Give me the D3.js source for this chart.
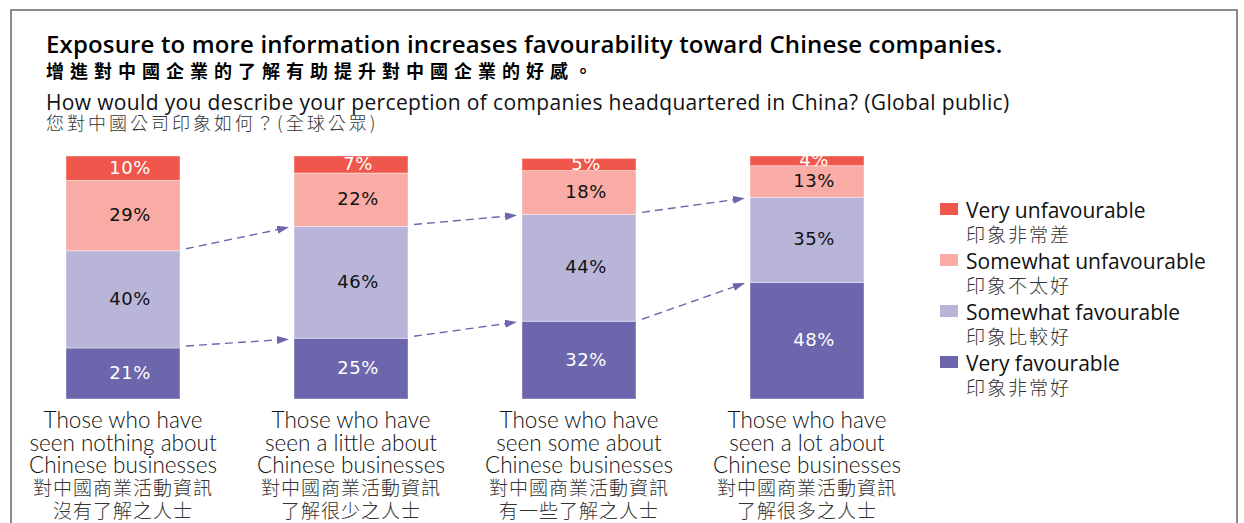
<!DOCTYPE html>
<html>
<head>
<meta charset="utf-8">
<script src="https://cdn.jsdelivr.net/npm/d3@7/dist/d3.min.js"></script>
<style>
  body { margin: 0; background: #fff; }
  svg { display: block; }
</style>
</head>
<body>
<div id="chart"></div>
<script>
// categories (English lines / Chinese lines)
const catEn = [
  ["Those who have", "seen nothing about", "Chinese businesses"],
  ["Those who have", "seen a little about", "Chinese businesses"],
  ["Those who have", "seen some about", "Chinese businesses"],
  ["Those who have", "seen a lot about", "Chinese businesses"]
]
const catZh = [
  ["對中國商業活動資訊", "沒有了解之人士"],
  ["對中國商業活動資訊", "了解很少之人士"],
  ["對中國商業活動資訊", "有一些了解之人士"],
  ["對中國商業活動資訊", "了解很多之人士"]
]

// series values, % (bottom to top)
const veryFav = [21, 25, 32, 48]
const somewhatFav = [40, 46, 44, 35]
const somewhatUnfav = [29, 22, 18, 13]
const veryUnfav = [10, 7, 5, 4]

const seriesKeys = ["veryFav", "somewhatFav", "somewhatUnfav", "veryUnfav"]
const seriesColors = ["#6c66ac", "#b9b5d9", "#f8aca5", "#f0574c"]
const labelColors = ["#fff", "#111", "#111", "#fff"]

// legend (top to bottom)
const legendEn = ["Very unfavourable", "Somewhat unfavourable", "Somewhat favourable", "Very favourable"]
const legendZh = ["印象非常差", "印象不太好", "印象比較好", "印象非常好"]
const legendColors = ["#f0574c", "#f8aca5", "#b9b5d9", "#6c66ac"]

const width = 1244, height = 523
const sans = "'Open Sans', 'Noto Sans', sans-serif"
const lato = "Lato, 'Open Sans', sans-serif"
const cjk = "'Noto Sans CJK TC', 'Noto Sans CJK SC', sans-serif"

const svg = d3.select("#chart").append("svg")
  .attr("width", width).attr("height", height)

// frame
svg.append("rect")
  .attr("x", 11).attr("y", 10).attr("width", 1226).attr("height", 600)
  .attr("fill", "none").attr("stroke", "#666").attr("stroke-width", 1.5)

// titles
svg.append("text").attr("x", 46).attr("y", 53)
  .attr("font-family", sans).attr("font-weight", 600).attr("font-size", 24)
  .attr("letter-spacing", 0.15).attr("fill", "#000")
  .text("Exposure to more information increases favourability toward Chinese companies.")
svg.append("text").attr("x", 46).attr("y", 78)
  .attr("font-family", cjk).attr("font-weight", 700).attr("font-size", 18)
  .attr("letter-spacing", 6).attr("fill", "#000")
  .text("增進對中國企業的了解有助提升對中國企業的好感。")
svg.append("text").attr("x", 46).attr("y", 110)
  .attr("font-family", sans).attr("font-size", 21)
  .attr("letter-spacing", 0.35).attr("fill", "#111")
  .text("How would you describe your perception of companies headquartered in China? (Global public)")
svg.append("text").attr("x", 46).attr("y", 130)
  .attr("font-family", cjk).attr("font-size", 18).attr("font-weight", 300)
  .attr("letter-spacing", 3).attr("fill", "#333")
  .text("您對中國公司印象如何？(全球公眾)")

// data table for the stack
const table = catEn.map((c, i) => ({
  i: i,
  veryFav: veryFav[i],
  somewhatFav: somewhatFav[i],
  somewhatUnfav: somewhatUnfav[i],
  veryUnfav: veryUnfav[i]
}))
const stacked = d3.stack().keys(seriesKeys)(table)

// scales
const x = d3.scaleBand()
  .domain(table.map(d => d.i))
  .range([66, 864])
  .paddingInner(0.5)
  .paddingOuter(0)

const y = d3.scaleLinear()
  .domain([0, 100])
  .range([399, 156])

// bars
const layers = svg.append("g").selectAll("g")
  .data(stacked)
  .enter().append("g")
    .attr("fill", (d, k) => seriesColors[k])

layers.selectAll("rect")
  .data(d => d)
  .enter().append("rect")
    .attr("x", d => x(d.data.i))
    .attr("y", d => y(d[1]))
    .attr("width", x.bandwidth())
    .attr("height", d => y(d[0]) - y(d[1]))
    .attr("stroke", "#fff").attr("stroke-opacity", 0.5).attr("stroke-width", 0.8)

// value labels
layers.each(function (layer, k) {
  d3.select(this).selectAll("text")
    .data(layer)
    .enter().append("text")
      .attr("x", d => x(d.data.i) + x.bandwidth() / 2 + 7)
      .attr("y", d => (y(d[0]) + y(d[1])) / 2 - 1)
      .attr("text-anchor", "middle")
      .attr("dominant-baseline", "central")
      .attr("font-family", "'DejaVu Sans', sans-serif")
      .attr("font-size", 18)
      .attr("letter-spacing", 0.5)
      .attr("fill", labelColors[k])
      .text(d => (d[1] - d[0]) + "%")
})

// dashed arrows between cumulative favourable boundaries
const arrowColor = "#6c66ac"
svg.append("defs").append("marker")
  .attr("id", "arrowhead")
  .attr("markerUnits", "userSpaceOnUse")
  .attr("viewBox", "0 0 12 8")
  .attr("refX", 11).attr("refY", 4)
  .attr("markerWidth", 12).attr("markerHeight", 8)
  .attr("orient", "auto")
  .append("path")
    .attr("d", "M0,0L12,4L0,8Z")
    .attr("fill", arrowColor)

const arrows = []
for (let i = 0; i < table.length - 1; i++) {
  ;[0, 1].forEach(k => {
    arrows.push({ from: i, to: i + 1, a: stacked[k][i][1], b: stacked[k][i + 1][1] })
  })
}
svg.append("g").selectAll("line")
  .data(arrows)
  .enter().append("line")
    .attr("x1", d => x(d.from) + x.bandwidth() + 6)
    .attr("y1", d => y(d.a) - 2)
    .attr("x2", d => x(d.to) - 6)
    .attr("y2", d => y(d.b) + 1)
    .attr("stroke", arrowColor)
    .attr("stroke-width", 1.4)
    .attr("stroke-dasharray", "8,5")
    .attr("marker-end", "url(#arrowhead)")

// category labels
const cats = svg.append("g").selectAll("g")
  .data(table)
  .enter().append("g")
    .attr("transform", d => `translate(${x(d.i) + x.bandwidth() / 2},0)`)

cats.selectAll("text.en")
  .data(d => catEn[d.i])
  .enter().append("text")
    .attr("class", "en")
    .attr("y", (d, j) => 428 + j * 22.5)
    .attr("text-anchor", "middle")
    .attr("font-family", lato).attr("font-size", 22.5).attr("font-weight", 300).attr("fill", "#111")
    .text(d => d)

cats.selectAll("text.zh")
  .data(d => catZh[d.i])
  .enter().append("text")
    .attr("class", "zh")
    .attr("y", (d, j) => 495 + j * 22.5)
    .attr("text-anchor", "middle")
    .attr("font-family", cjk).attr("font-size", 19).attr("font-weight", 300)
    .attr("letter-spacing", 1).attr("fill", "#333")
    .text(d => d)

// legend
const legend = svg.append("g").selectAll("g")
  .data(legendEn)
  .enter().append("g")
    .attr("transform", (d, i) => `translate(940,${203 + i * 51})`)

legend.append("rect")
  .attr("width", 18).attr("height", 12)
  .attr("fill", (d, i) => legendColors[i])
legend.append("text")
  .attr("x", 26).attr("y", 15)
  .attr("font-family", sans).attr("font-size", 21).attr("fill", "#111")
  .text(d => d)
legend.append("text")
  .attr("x", 26).attr("y", 39)
  .attr("font-family", cjk).attr("font-size", 19).attr("font-weight", 300)
  .attr("letter-spacing", 2).attr("fill", "#333")
  .text((d, i) => legendZh[i])
</script>
</body>
</html>
